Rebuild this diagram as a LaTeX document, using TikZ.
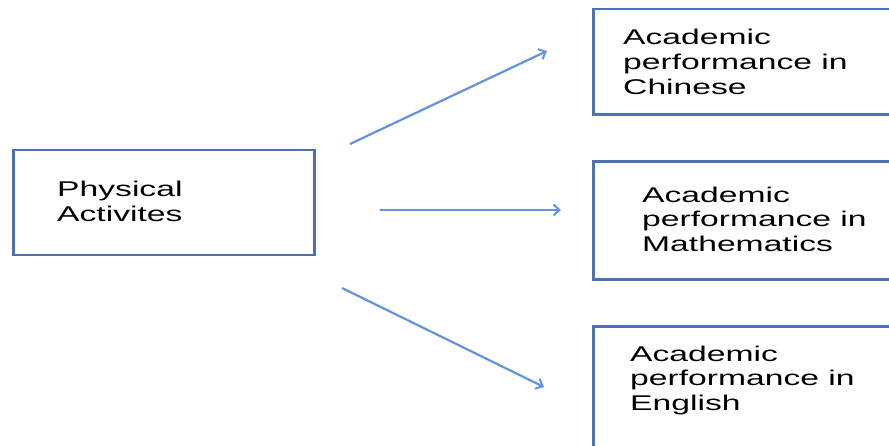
\documentclass[tikz,border=0pt]{standalone}
\usepackage{fontspec}
\usetikzlibrary{arrows.meta}
\newfontfamily\boxfont[FakeStretch=1.58]{Liberation Sans}
\definecolor{boxblue}{RGB}{79,113,176}
\definecolor{arrowblue}{RGB}{98,146,224}
\tikzset{
  frame/.style={draw=boxblue, line width=2.5pt, rectangle, inner sep=0pt},
  txt/.style={inner sep=0pt, align=left, anchor=base west, text=black,
    font=\boxfont\fontsize{21.3}{24.7}\selectfont},
  arr/.style={draw=arrowblue, line width=2.2pt,
    -{Straight Barb[length=6pt, width=11pt, line width=2pt]}}
}
\begin{document}
\begin{tikzpicture}[x=1pt, y=-1pt]
\clip (0,0) rectangle (889,445);
\fill[white] (0,0) rectangle (889,445);
% boxes
\node[frame, minimum width=301pt, minimum height=105pt, anchor=north west] (pa) at (12,148.5) {};
\node[frame, minimum width=320pt, minimum height=105.5pt, anchor=north west] (ch) at (592,7.5) {};
\node[frame, minimum width=320pt, minimum height=118pt, anchor=north west] (ma) at (592,160) {};
\node[frame, minimum width=320pt, minimum height=140pt, anchor=north west] (en) at (592,325) {};
% texts (anchor = baseline of last line)
\node[txt] (tpa) at (57,221) {Physical\\Activites};
\node[txt] (tch) at (623,94) {Academic\\performance in\\Chinese};
\node[txt] (tma) at (642,251.5) {Academic\\performance in\\Mathematics};
\node[txt] (ten) at (630,410.5) {Academic\\performance in\\English};
% arrow ends
\coordinate (s1) at (350,144);
\coordinate (e1) at (547,51);
\coordinate (s2) at (380,210);
\coordinate (e2) at (561,210);
\coordinate (s3) at (342,288);
\coordinate (e3) at (544,387);
\draw[arr] (s1) -- (e1);
\draw[arr] (s2) -- (e2);
\draw[arr] (s3) -- (e3);
\end{tikzpicture}
\end{document}
